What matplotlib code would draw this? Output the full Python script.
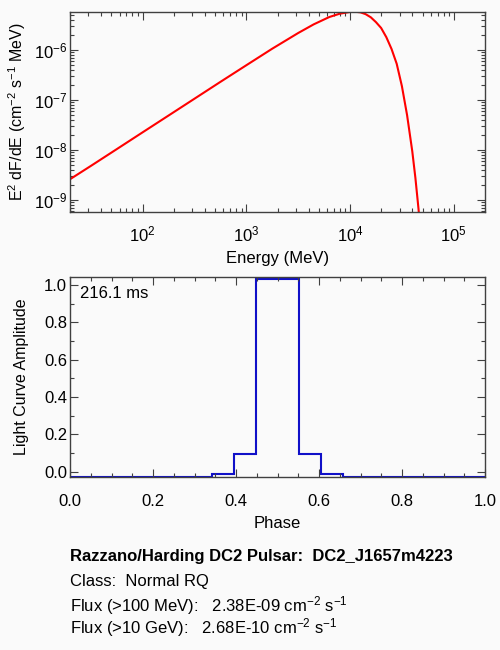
import matplotlib
matplotlib.use("Agg")
import matplotlib.pyplot as plt
from matplotlib.ticker import LogLocator, MultipleLocator, NullFormatter, FixedLocator

plt.rcParams['font.family'] = ['Liberation Sans', 'DejaVu Sans']
plt.rcParams['mathtext.fontset'] = 'custom'
plt.rcParams['mathtext.rm'] = 'Liberation Sans'
plt.rcParams['mathtext.it'] = 'Liberation Sans:italic'
plt.rcParams['mathtext.bf'] = 'Liberation Sans:bold'

# Spectrum
energy_mev = [20, 31.6, 56.2, 100, 178, 316, 562, 1000, 1778, 3162, 4467, 6310,
              7943, 10000, 11220, 12590, 14125, 15850, 17780, 19950, 22390,
              25120, 28180, 31620, 35480, 39810, 42660, 45710, 47860]
e2dfde = [2.62e-9, 4.8e-9, 1.04e-8, 2.26e-8, 4.9e-8, 1.06e-7, 2.3e-7, 4.95e-7,
          1.06e-6, 2.18e-6, 3.25e-6, 4.55e-6, 5.3e-6, 5.75e-6, 5.8e-6, 5.65e-6,
          5.2e-6, 4.5e-6, 3.6e-6, 2.75e-6, 1.8e-6, 1.05e-6, 5.3e-7, 1.9e-7,
          5.0e-8, 9.5e-9, 2.8e-9, 6.75e-10, 2.31e-10]

# Light curve
phase_edges = [0.0, 0.341, 0.394, 0.447, 0.553, 0.605, 0.658, 1.0]
amplitude = [-0.028, -0.014, 0.097, 1.03, 0.097, -0.014, -0.028]

period_label = "216.1 ms"
title_line = "Razzano/Harding DC2 Pulsar:  DC2_J1657m4223"
class_line = "Class:  Normal RQ"
flux_lines = ["Flux (>100 MeV):   2.38E-09 cm$^{-2}$ s$^{-1}$",
              "Flux (>10 GeV):   2.68E-10 cm$^{-2}$ s$^{-1}$"]

bg = '#fafafa'
axc = '#404040'
fs = 12
fig = plt.figure(figsize=(5, 6.5), dpi=100, facecolor=bg)

def style(ax, xpad):
    ax.set_facecolor(bg)
    for s in ax.spines.values():
        s.set_color(axc)
        s.set_linewidth(1.0)
    ax.tick_params(which='both', direction='in', top=True, right=True,
                   color=axc, labelsize=fs, labelcolor='black', width=0.8)
    ax.tick_params(which='major', length=6)
    ax.tick_params(which='minor', length=3)
    ax.tick_params(axis='x', which='major', pad=xpad)
    ax.tick_params(axis='y', which='major', pad=2)

# Top panel
ax1 = fig.add_axes([0.14, 0.6738, 0.83, 0.3077])
style(ax1, 9)
ax1.plot(energy_mev, e2dfde, color='#ff0000', lw=1.5)
ax1.set_xscale('log')
ax1.set_yscale('log')
ax1.set_xlim(20, 2e5)
ax1.set_ylim(5.8e-10, 5.73e-6)
ax1.xaxis.set_major_locator(FixedLocator([1e2, 1e3, 1e4, 1e5]))
ax1.xaxis.set_minor_locator(LogLocator(base=10, subs=range(2, 10), numticks=20))
ax1.xaxis.set_minor_formatter(NullFormatter())
ax1.yaxis.set_major_locator(FixedLocator([1e-9, 1e-8, 1e-7, 1e-6]))
ax1.yaxis.set_minor_locator(LogLocator(base=10, subs=range(2, 10), numticks=20))
ax1.yaxis.set_minor_formatter(NullFormatter())
ax1.set_xlabel("Energy (MeV)", fontsize=fs, labelpad=5)
ax1.set_ylabel("E$^{2}$ dF/dE (cm$^{-2}$ s$^{-1}$ MeV)", fontsize=11.5, labelpad=4.5)

# Bottom panel
ax2 = fig.add_axes([0.14, 0.2662, 0.83, 0.3076])
style(ax2, 12)
ax2.stairs(amplitude, phase_edges, baseline=None, color='#1010c8', lw=1.5)
ax2.set_xlim(0, 1)
ax2.set_ylim(-0.028, 1.043)
ax2.xaxis.set_major_locator(MultipleLocator(0.2))
ax2.xaxis.set_minor_locator(MultipleLocator(0.05))
ax2.yaxis.set_major_locator(MultipleLocator(0.2))
ax2.yaxis.set_minor_locator(MultipleLocator(0.1))
ax2.xaxis.set_major_formatter(plt.FuncFormatter(lambda v, p: f"{v:.1f}"))
ax2.yaxis.set_major_formatter(plt.FuncFormatter(lambda v, p: f"{v:.1f}"))
ax2.set_xlabel("Phase", fontsize=fs, labelpad=5)
ax2.set_ylabel("Light Curve Amplitude", fontsize=11.5, labelpad=11)
ax2.text(0.025, 0.92, period_label, transform=ax2.transAxes, fontsize=fs,
         ha='left', va='center')

# Info text
fig.text(70/500, 1-556.5/650, title_line, fontsize=fs, fontweight='bold',
         ha='left', va='center')
fig.text(70/500, 1-581.5/650, class_line, fontsize=fs, ha='left', va='center')
fig.text(70/500, 1-606/650, flux_lines[0], fontsize=fs, ha='left', va='center')
fig.text(70/500, 1-628/650, flux_lines[1], fontsize=fs, ha='left', va='center')

fig.savefig("out.png", dpi=100, facecolor=bg)
